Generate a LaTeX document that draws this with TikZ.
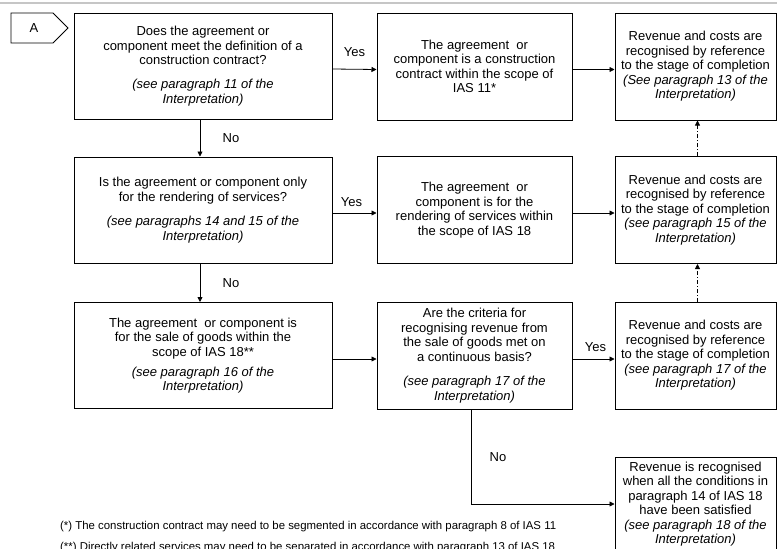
\documentclass[tikz,border=0pt]{standalone}
\usepackage{fontspec}
\setmainfont{Liberation Sans}
\usetikzlibrary{arrows.meta,positioning,calc}

\tikzset{
  flow/.style={draw, line width=1pt, align=center, inner sep=2pt,
    font=\fontsize{13}{14.5}\selectfont},
  askbox/.style={flow, minimum width=258pt, minimum height=106pt},
  midbox/.style={flow, minimum width=195pt, minimum height=107pt},
  endbox/.style={flow, minimum width=161pt, minimum height=107pt},
  arr/.style={line width=0.8pt, -{Triangle[length=5pt,width=5pt]}},
  dotarr/.style={arr, dash pattern=on 4pt off 2pt on 1pt off 2pt},
  lbl/.style={font=\fontsize{13}{14.5}\selectfont},
  note/.style={anchor=west, inner sep=0pt, font=\fontsize{11.4}{13}\selectfont}
}

\begin{document}
\begin{tikzpicture}[x=1pt,y=-1pt]
\useasboundingbox (0,0) rectangle (777,549);

% page rule
\draw[gray!45, line width=1.5pt] (0,3) -- (777,3);

% entry tag
\draw[line width=0.8pt] (11,13) -- (53,13) -- (68,28) -- (53,43) -- (11,43) -- cycle;
\node[lbl] (tagA) at (34,28) {A};

% first row
\node[askbox] (ask1) at (203,66) {Does the agreement or\\component meet the definition of a\\construction contract?\\[9.5pt]
  \textit{(see paragraph 11 of the}\\\textit{Interpretation)}};
\node[midbox] (scope1) at (474.5,66.5) {The agreement~ or\\component is a construction\\contract within the scope of\\IAS 11*};
\node[endbox] (rev1) at (695.5,66.5) {Revenue and costs are\\recognised by reference\\to the stage of completion\\
  \textit{(See paragraph 13 of the}\\\textit{Interpretation)}};

% second row
\node[askbox] (ask2) at (203,210) {Is the agreement or component only\\for the rendering of services?\\[10pt]
  \textit{(see paragraphs 14 and 15 of the}\\\textit{Interpretation)}};
\node[midbox] (scope2) at (474.5,210) {The agreement~ or\\component is for the\\rendering of services within\\the scope of IAS 18};
\node[endbox] (rev2) at (695.5,210) {Revenue and costs are\\recognised by reference\\to the stage of completion\\
  \textit{(see paragraph 15 of the}\\\textit{Interpretation)}};

% third row
\node[askbox] (goods) at (203,355.5) {The agreement~ or component is\\for the sale of goods within the\\scope of IAS 18**\\[5.5pt]
  \textit{(see paragraph 16 of the}\\\textit{Interpretation)}};
\node[midbox] (test) at (474.5,355.5) {Are the criteria for\\recognising revenue from\\the sale of goods met on\\a continuous basis?\\[10pt]
  \textit{(see paragraph 17 of the}\\\textit{Interpretation)}};
\node[endbox] (rev3) at (695.5,355.5) {Revenue and costs are\\recognised by reference\\to the stage of completion\\
  \textit{(see paragraph 17 of the}\\\textit{Interpretation)}};

% last box
\node[endbox, minimum height=94pt] (onesale) at (695.5,504) {Revenue is recognised\\when all the conditions in\\paragraph 14 of IAS 18\\have been satisfied\\
  \textit{(see paragraph 18 of the}\\\textit{Interpretation)}};

% connectors
\draw[arr] ([yshift=-3pt]ask1.east) -- node[lbl, midway, yshift=17pt] {Yes} ([yshift=-3pt]scope1.west);
\draw[arr] ([yshift=-3pt]scope1.east) -- ([yshift=-3pt]rev1.west);
\draw[arr] ([xshift=-3pt]ask1.south) -- node[lbl, midway, xshift=31pt] {No} ([xshift=-3pt]ask2.north);

\draw[arr] ([yshift=-3pt]ask2.east) -- node[lbl, midway, yshift=11pt, xshift=-3pt] {Yes} ([yshift=-3pt]scope2.west);
\draw[arr] ([yshift=-3pt]scope2.east) -- ([yshift=-3pt]rev2.west);
\draw[arr] ([xshift=-3pt]ask2.south) -- node[lbl, midway, xshift=31pt] {No} ([xshift=-3pt]goods.north);

\draw[arr] ([yshift=-3.5pt]goods.east) -- ([yshift=-3.5pt]test.west);
\draw[arr] ([yshift=-3.5pt]test.east) -- node[lbl, midway, yshift=12pt, xshift=2pt] {Yes} ([yshift=-3.5pt]rev3.west);
\draw[arr] ([xshift=-3.5pt]test.south) |- node[lbl, pos=.25, xshift=27pt] {No} (onesale.west);

\draw[dotarr] ([xshift=2pt]rev2.north) -- ([xshift=2pt]rev1.south);
\draw[dotarr] ([xshift=2pt]rev3.north) -- ([xshift=2pt]rev2.south);

% footnotes
\node[note] (fn1) at (60,527) {(*) The construction contract may need to be segmented in accordance with paragraph 8 of IAS 11};
\node[note] (fn2) at (60,547.5) {(**) Directly related services may need to be separated in accordance with paragraph 13 of IAS 18};
\end{tikzpicture}
\end{document}
